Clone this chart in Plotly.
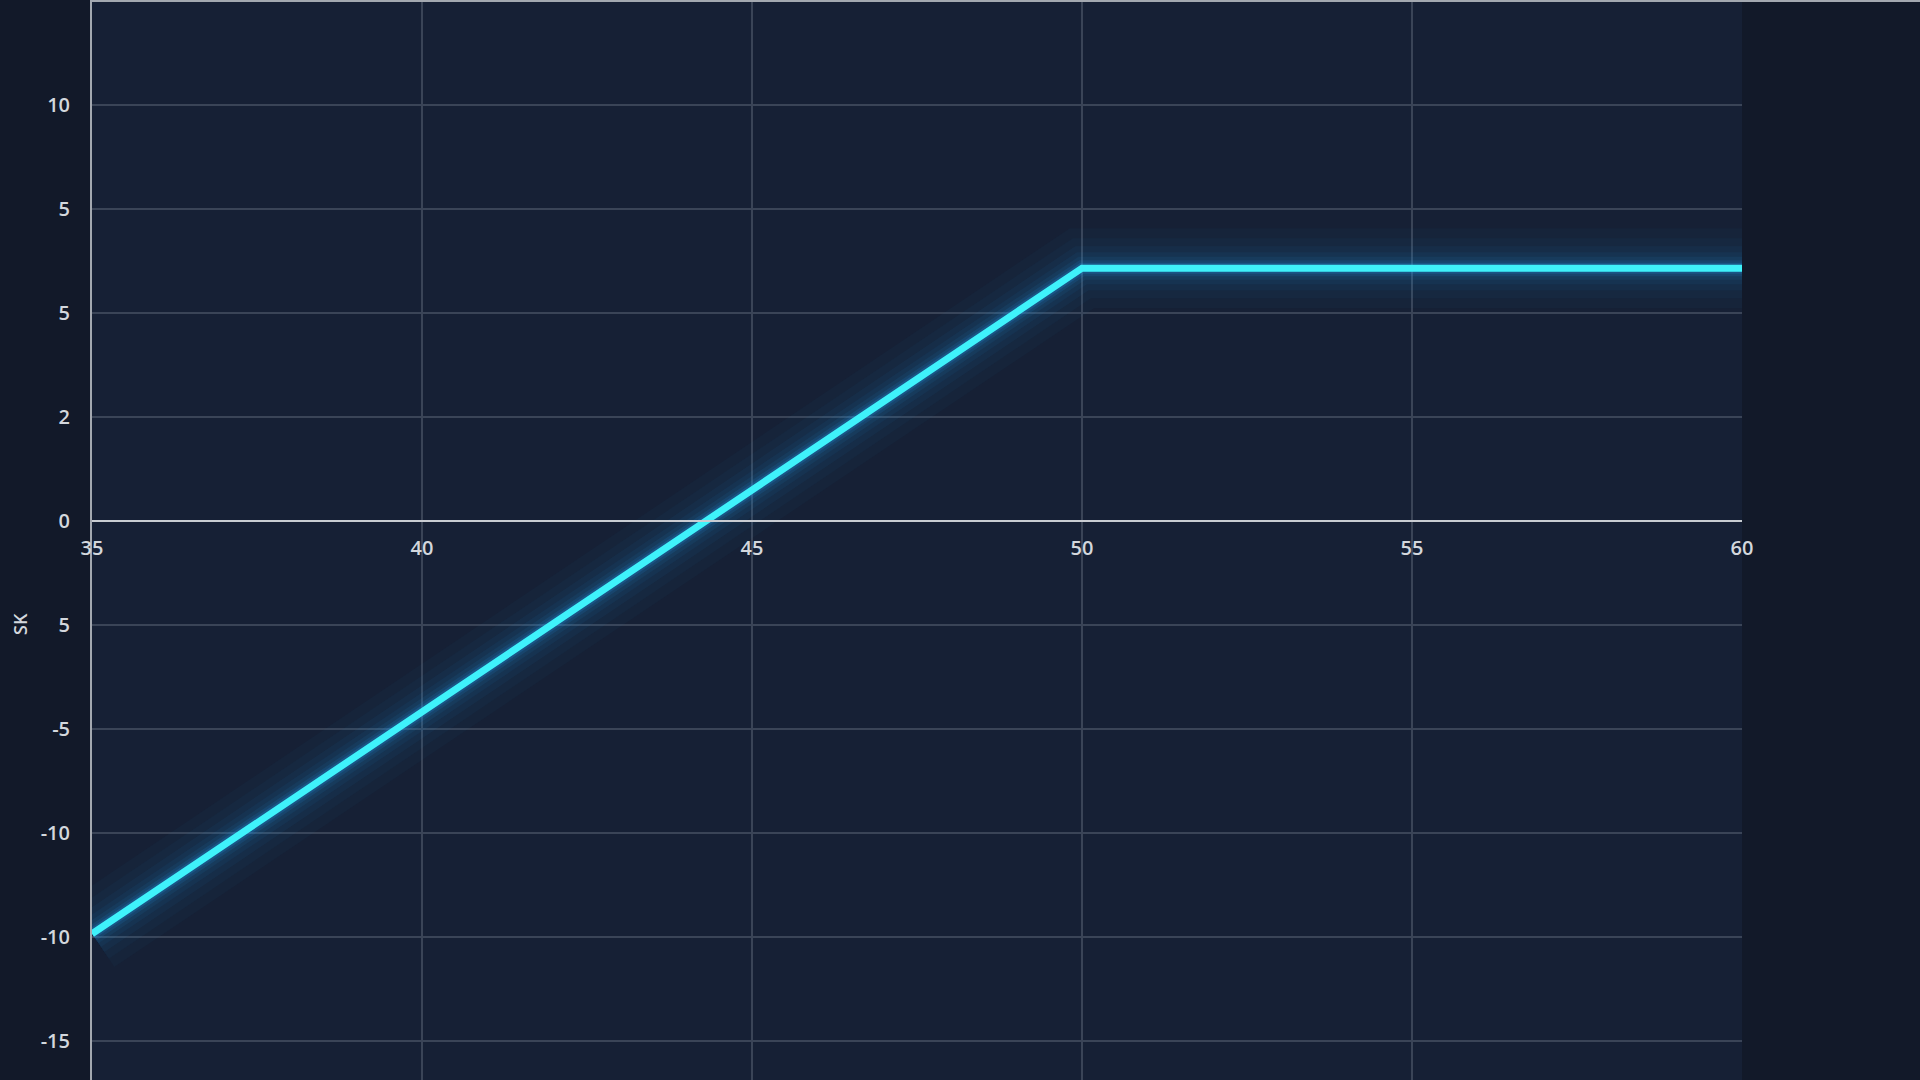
import plotly.graph_objects as go

# ---- data ----
price = [35, 50, 60]
payoff = [-19.85, 12.15, 12.15]

x_ticks = [35, 40, 45, 50, 55, 60]
x_ticktext = ["35", "40", "45", "50", "55", "60"]

y_ticks = [-25, -20, -15, -10, -5, 0, 5, 10, 15, 20, 25]
y_ticktext = ["-15", "-10", "-10", "-5", "5", "0", "2", "5", "5", "10", "10"]

y_title = "SK"

# ---- styling ----
PAPER = "#121929"
PLOT = "#162035"
GRID = "#3a4457"
AXIS = "#a3a8b0"
ZERO = "#c8ccd2"
TEXT = "#d3d7dd"
CYAN = "#3ff2fb"

Y_MIN, Y_MAX = -26.88, 25.04
zero_pos = (0 - Y_MIN) / (Y_MAX - Y_MIN)

fig = go.Figure()

# soft glow layers
for w, a in [(80, 0.03), (60, 0.04), (44, 0.05), (32, 0.06),
             (23, 0.08), (16, 0.12), (11, 0.2)]:
    fig.add_trace(go.Scatter(
        x=price, y=payoff, mode="lines",
        line=dict(color=f"rgba(35,150,235,{a})", width=w),
        hoverinfo="skip", showlegend=False,
    ))

fig.add_trace(go.Scatter(
    x=price, y=payoff, mode="lines",
    line=dict(color=CYAN, width=7),
    showlegend=False,
))

fig.update_layout(
    width=1920, height=1080,
    margin=dict(l=92, r=178, t=0, b=0, pad=0),
    paper_bgcolor=PAPER,
    plot_bgcolor=PLOT,
    font=dict(family="Open Sans, Noto Sans, sans-serif", color=TEXT, size=20),
    showlegend=False,
    xaxis=dict(
        range=[35, 60],
        tickvals=x_ticks, ticktext=x_ticktext,
        anchor="free", position=zero_pos,
        showline=True, linecolor=ZERO, linewidth=2,
        showgrid=True, gridcolor=GRID, gridwidth=2,
        zeroline=False, ticks="", ticklabelstandoff=9,
        tickfont=dict(size=20, color=TEXT, weight=600),
    ),
    yaxis=dict(
        range=[Y_MIN, Y_MAX],
        tickvals=y_ticks, ticktext=y_ticktext,
        showline=True, linecolor=AXIS, linewidth=2,
        showgrid=True, gridcolor=GRID, gridwidth=2,
        zeroline=False, ticks="", ticklabelstandoff=16,
        tickfont=dict(size=20, color=TEXT, weight=600),
    ),
    shapes=[
        dict(type="line", xref="paper", yref="paper",
             x0=0, x1=(1920 - 92) / 1650, y0=0.999, y1=0.999,
             line=dict(color=AXIS, width=2), layer="above"),
    ],
    annotations=[
        dict(text=y_title, xref="paper", yref="paper",
             x=-72 / 1650, y=(1080 - 624) / 1080,
             showarrow=False, textangle=-90,
             font=dict(size=18, color=TEXT, weight=600),
             xanchor="center", yanchor="middle"),
    ],
)

fig.write_html(
    "out.html",
    config={"displayModeBar": False},
    post_script="document.body.style.margin='0';document.body.style.overflow='hidden';",
)
